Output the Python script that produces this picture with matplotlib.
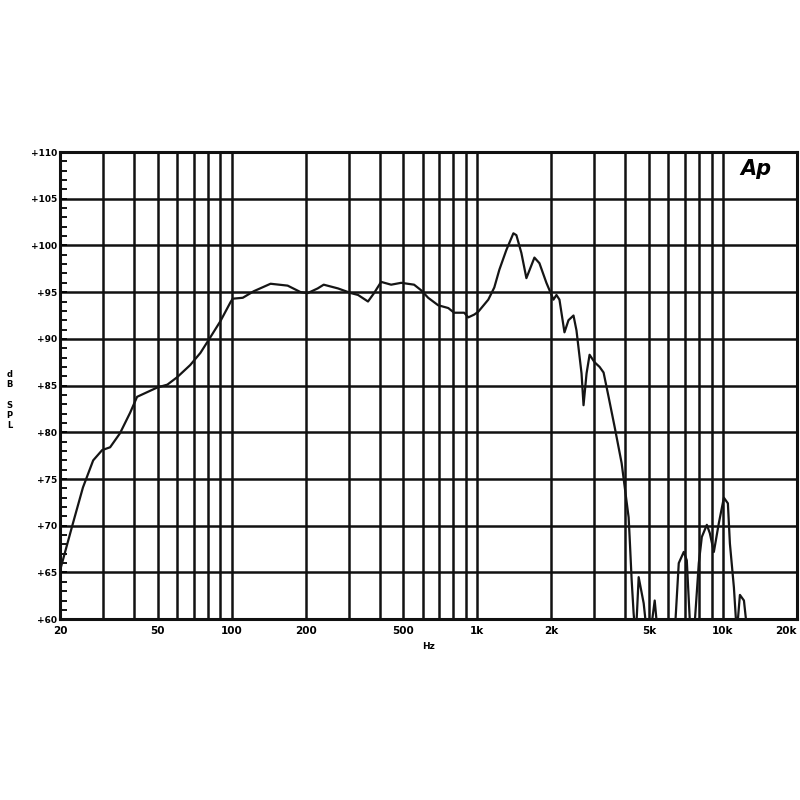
import matplotlib
matplotlib.use("Agg")
import matplotlib.pyplot as plt
from matplotlib.ticker import FixedLocator, NullFormatter, MultipleLocator

# frequency response (Hz, dB SPL)
freq = [20, 22.6, 24.8, 27.3, 29.7, 32, 35.1, 38.6, 41.2, 45.3, 49.8, 54.7,
        60, 67.8, 74.6, 82, 90, 98.8, 101, 111, 123, 144, 169, 191, 204, 224,
        237, 271, 306, 327, 359, 380, 406, 446, 490, 553, 591, 631, 693, 762,
        805, 885, 919, 972, 1009, 1109, 1173, 1230, 1313, 1403, 1443, 1512,
        1585, 1709, 1791, 1912, 2043, 2101, 2161, 2265, 2352, 2465, 2535,
        2658, 2708, 2786, 2866, 3003, 3148, 3268, 3425, 3624, 3871, 4133,
        4172, 4252, 4332, 4420, 4541, 4760, 4880, 5000, 5131, 5278, 5429,
        5700, 6100, 6400, 6613, 6931, 7130, 7330, 7480, 7700, 7980, 8209,
        8605, 8850, 9190, 9632, 10095, 10481, 10681, 11090, 11300, 11500,
        11733, 12184, 12415, 12900, 14000, 20000]
spl = [65.2, 70.3, 74.1, 77.0, 78.1, 78.4, 79.9, 82.1, 83.8, 84.3, 84.8, 85.1,
       85.9, 87.2, 88.5, 90.2, 91.9, 93.9, 94.3, 94.4, 95.1, 95.9, 95.7, 95.0,
       94.9, 95.4, 95.8, 95.4, 94.9, 94.7, 94.0, 94.9, 96.1, 95.8, 96.0, 95.8,
       95.2, 94.4, 93.6, 93.3, 92.8, 92.8, 92.3, 92.6, 92.9, 94.2, 95.5, 97.4,
       99.5, 101.3, 101.1, 99.2, 96.5, 98.7, 98.1, 96.0, 94.2, 94.7, 94.2,
       90.7, 92.0, 92.5, 90.9, 86.3, 82.9, 86.3, 88.3, 87.5, 87.0, 86.4,
       83.8, 80.6, 76.7, 70.9, 68.8, 64.2, 60.6, 58.0, 64.5, 61.7, 59.0, 58.5,
       59.5, 62.0, 58.5, 57.0, 57.0, 59.5, 66.0, 67.2, 66.3, 60.0, 58.5,
       60.0, 66.0, 68.8, 70.1, 69.2, 67.2, 70.3, 73.0, 72.4, 68.1, 63.4,
       60.0, 59.8, 62.6, 62.0, 60.0, 57.0, 55.0, 55.0]

x_labels = [20, 50, 100, 200, 500, 1000, 2000, 5000, 10000, 20000]
x_label_text = ["20", "50", "100", "200", "500", "1k", "2k", "5k", "10k", "20k"]
x_grid = [m * d for d in (10, 100, 1000, 10000) for m in range(1, 10)
          if 20 <= m * d <= 20000]
y_major = list(range(60, 111, 5))

fig = plt.figure(figsize=(8, 8), dpi=100)
ax = fig.add_axes([0.075, 0.226, 0.921, 0.584])

ax.set_xscale("log")
ax.set_xlim(20, 20000)
ax.set_ylim(60, 110)

# grid
for f in x_grid:
    ax.axvline(f, color="#111111", lw=1.8, zorder=1)
for v in y_major:
    ax.axhline(v, color="#111111", lw=1.8, zorder=1)

ax.plot(freq, spl, color="#151515", lw=1.6, zorder=3, solid_joinstyle="round")

for s in ax.spines.values():
    s.set_linewidth(2.2)
    s.set_color("#111111")

ax.xaxis.set_major_locator(FixedLocator(x_labels))
ax.xaxis.set_minor_locator(FixedLocator([]))
ax.set_xticklabels(x_label_text)
ax.xaxis.set_minor_formatter(NullFormatter())
ax.tick_params(axis="x", which="both", length=0, pad=5, labelsize=7.5)
for t in ax.get_xticklabels():
    t.set_fontweight("bold")
ax.get_xticklabels()[-1].set_horizontalalignment("right")

ax.yaxis.set_major_locator(FixedLocator(y_major))
ax.set_yticklabels(["+%d" % v for v in y_major])
ax.yaxis.set_minor_locator(MultipleLocator(1))
ax.tick_params(axis="y", which="both", direction="in", length=5, width=1.3,
               pad=2, labelsize=6.5)
for t in ax.get_yticklabels():
    t.set_fontweight("bold")

ax.set_xlabel("Hz", fontsize=6.5, fontweight="bold", labelpad=4)
fig.text(0.012, 0.5, "d\nB\n\nS\nP\nL", fontsize=6, fontweight="bold",
         ha="center", va="center", linespacing=1.15)

ax.text(0.966, 0.985, "Ap", transform=ax.transAxes, ha="right", va="top",
        fontsize=15, fontweight="bold", fontstyle="italic", zorder=4)

fig.savefig("out.png", dpi=100, facecolor="white")
